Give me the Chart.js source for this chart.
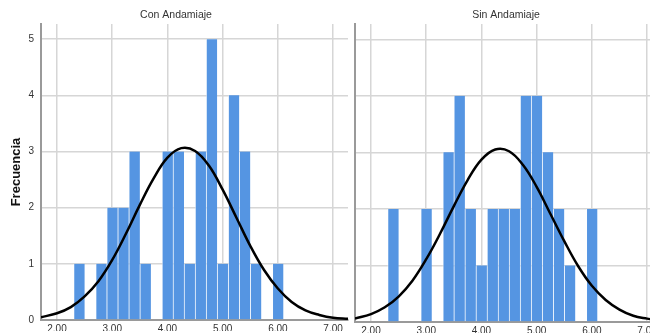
<!DOCTYPE html>
<html>
<head>
<meta charset="utf-8">
<script src="https://cdn.jsdelivr.net/npm/chart.js@4.4.0/dist/chart.umd.min.js"></script>
<style>
  html, body { margin: 0; padding: 0; background: #fff; }
  body { width: 650px; height: 333px; overflow: hidden; position: relative; }
  #left { position: absolute; left: 0; top: 0; width: 352px; height: 333px; }
  #right { position: absolute; left: 350px; top: 0; width: 316px; height: 333px; }
</style>
</head>
<body>
<div id="left"><canvas id="chartLeft"></canvas></div>
<div id="right"><canvas id="chartRight"></canvas></div>
<script>
// histogram bins (start, width) and counts per bin
const binStart = 2.3;
const binWidth = 0.2;
const conCounts = [1, 0, 1, 2, 2, 3, 1, 0, 3, 3, 1, 3, 5, 1, 4, 3, 1, 0, 1];
const sinCounts = [2, 0, 0, 2, 0, 3, 4, 2, 1, 2, 2, 2, 4, 4, 3, 2, 1, 0, 2];

// normal curve
const curveX = [1.71, 2.0, 2.25, 2.5, 2.75, 3.0, 3.25, 3.5, 3.75, 4.0, 4.25, 4.5,
  4.75, 5.0, 5.25, 5.5, 5.75, 6.0, 6.25, 6.5, 6.75, 7.0, 7.27];
const conCurve = [0.05, 0.12, 0.23, 0.42, 0.69, 1.07, 1.54, 2.05, 2.52, 2.89, 3.06, 3.01,
  2.75, 2.32, 1.82, 1.32, 0.89, 0.56, 0.32, 0.17, 0.09, 0.04, 0.02];
const sinCurve = [0.06, 0.14, 0.26, 0.45, 0.73, 1.11, 1.56, 2.05, 2.51, 2.87, 3.05, 3.02,
  2.78, 2.39, 1.91, 1.43, 0.99, 0.64, 0.39, 0.22, 0.11, 0.06, 0.02];

const xTicks = [2, 3, 4, 5, 6, 7];
const yTicks = [0, 1, 2, 3, 4, 5];

const FONT = "Arial, 'Liberation Sans', sans-serif";
const gridColor = "#d6d6d6";
const axisColor = "#9a9a9a";

function makeChart(id, title, counts, curve, showY) {
  const bars = counts.map((c, i) => ({ x: binStart + (i + 0.5) * binWidth, y: c }));
  const line = curveX.map((x, i) => ({ x: x, y: curve[i] }));

  return new Chart(document.getElementById(id), {
    type: "bar",
    data: {
      datasets: [
        {
          type: "line",
          data: line,
          borderColor: "#000",
          borderWidth: 2.5,
          pointRadius: 0,
          tension: 0.4,
          fill: false,
          order: 0,
        },
        {
          type: "bar",
          data: bars,
          backgroundColor: "#5595e2",
          borderColor: "rgba(255,255,255,0.55)",
          borderWidth: { left: 1, right: 0, top: 0, bottom: 0 },
          barPercentage: 1,
          categoryPercentage: 1,
          order: 1,
        },
      ],
    },
    options: {
      responsive: true,
      maintainAspectRatio: false,
      animation: false,
      devicePixelRatio: 1,
      layout: { padding: { left: showY ? 4 : 0, right: 4, top: 0, bottom: 0 } },
      plugins: {
        legend: { display: false },
        tooltip: { enabled: false },
        title: {
          display: true,
          text: title,
          color: "#333",
          font: { family: FONT, size: 10.5, weight: "normal" },
          padding: { top: 9, bottom: 2.4 },
        },
      },
      scales: {
        x: {
          type: "linear",
          min: 1.71,
          max: 7.27,
          offset: false,
          grid: { color: gridColor, lineWidth: 1.5, drawTicks: false, offset: false },
          border: { display: true, color: axisColor, width: 2 },
          afterBuildTicks: (s) => { s.ticks = xTicks.map((v) => ({ value: v })); },
          afterFit: (s) => { s.height = 11; },
          ticks: {
            padding: 3,
            color: "#333",
            font: { family: FONT, size: 10 },
            maxRotation: 0,
            callback: (v) => Number(v).toFixed(2),
          },
        },
        y: {
          min: 0,
          max: 5.27,
          grid: { color: gridColor, lineWidth: 1.5, drawTicks: false },
          border: { display: true, color: axisColor, width: 2 },
          afterBuildTicks: (s) => { s.ticks = yTicks.map((v) => ({ value: v })); },
          afterFit: (s) => { s.width = showY ? 37 : 5; },
          ticks: {
            display: showY,
            padding: 7,
            color: "#333",
            font: { family: FONT, size: 10 },
          },
          title: {
            display: showY,
            text: "Frecuencia",
            color: "#111",
            font: { family: FONT, size: 13, weight: "bold" },
            padding: { top: 5, bottom: 0 },
          },
        },
      },
    },
  });
}

makeChart("chartLeft", "Con Andamiaje", conCounts, conCurve, true);
makeChart("chartRight", "Sin Andamiaje", sinCounts, sinCurve, false);
</script>
</body>
</html>
